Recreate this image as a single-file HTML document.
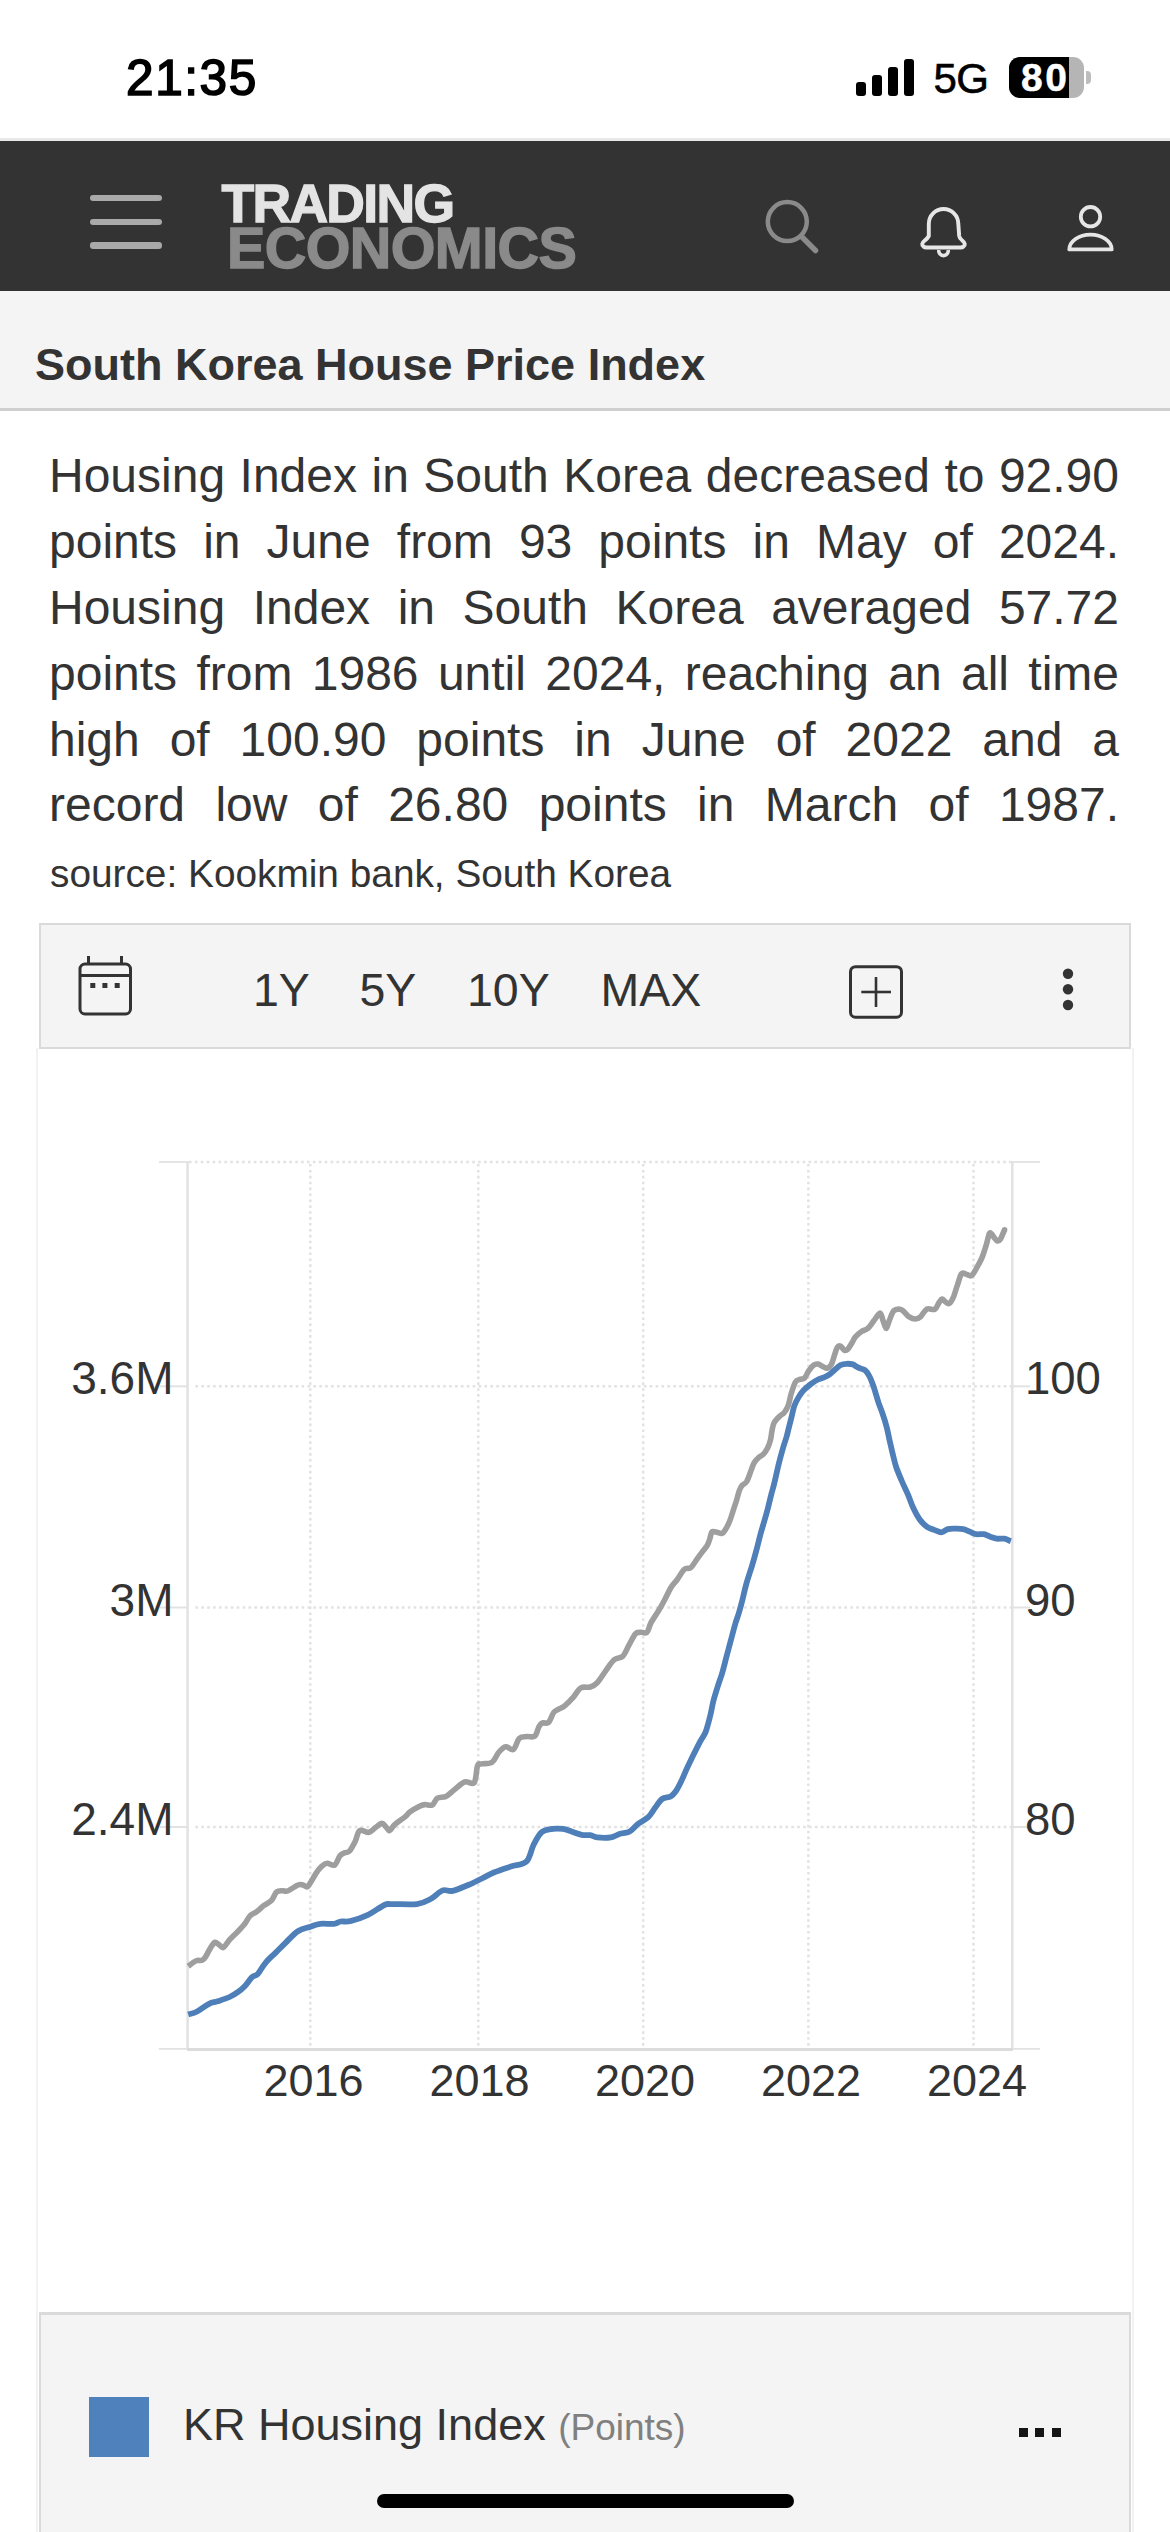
<!DOCTYPE html>
<html><head><meta charset="utf-8">
<style>
*{margin:0;padding:0;box-sizing:border-box}
html,body{width:1170px;height:2532px;overflow:hidden;background:#fff}
body{position:relative;font-family:"Liberation Sans",sans-serif;color:#333}
.t{position:absolute;line-height:1;white-space:pre}
.j{position:absolute;line-height:1;text-align:justify;text-align-last:justify;white-space:normal}
.abs{position:absolute}
</style></head><body>
<div class="t" style="left:126px;top:53.2px;font-size:49.5px;font-weight:400;color:#000;letter-spacing:1.6px;-webkit-text-stroke:1.6px #000;">21:35</div>
<div class="abs" style="left:856px;top:82px;width:10px;height:13.5px;background:#000;border-radius:3px"></div>
<div class="abs" style="left:872px;top:75px;width:10px;height:20.5px;background:#000;border-radius:3px"></div>
<div class="abs" style="left:888px;top:67px;width:10px;height:28.5px;background:#000;border-radius:3px"></div>
<div class="abs" style="left:904px;top:59px;width:10px;height:36.5px;background:#000;border-radius:3px"></div>
<div class="t" style="left:933.5px;top:58.2px;font-size:42px;font-weight:400;color:#000;letter-spacing:-0.5px;-webkit-text-stroke:0.6px #000;">5G</div>
<div class="abs" style="left:1009px;top:57px;width:75px;height:41px;border-radius:11px;background:#b5b5b5;overflow:hidden"><div style="width:60px;height:41px;background:#000"></div></div>
<div class="abs" style="left:1086px;top:71px;width:4.5px;height:13px;border-radius:0 4px 4px 0;background:#bdbdbd"></div>
<div class="t" style="left:1021px;top:58.4px;font-size:39px;font-weight:700;color:#fff;letter-spacing:2.5px;-webkit-text-stroke:0.5px #fff;">80</div>
<div class="abs" style="left:0;top:138px;width:1170px;height:3px;background:#e8e8e8"></div>
<div class="abs" style="left:0;top:141px;width:1170px;height:150px;background:#333"></div>
<div class="abs" style="left:90px;top:194.5px;width:72px;height:6.4px;border-radius:3.2px;background:#a9a9a9"></div>
<div class="abs" style="left:90px;top:218.8px;width:72px;height:6.4px;border-radius:3.2px;background:#a9a9a9"></div>
<div class="abs" style="left:90px;top:242.4px;width:72px;height:6.4px;border-radius:3.2px;background:#a9a9a9"></div>
<div class="t" style="left:221.5px;top:177.0px;font-size:53.5px;font-weight:700;color:#e4e4e4;letter-spacing:-1.7px;-webkit-text-stroke:1.3px #e4e4e4;">TRADING</div>
<div class="t" style="left:227px;top:219.7px;font-size:57.5px;font-weight:700;color:#8a8a8a;letter-spacing:-0.6px;-webkit-text-stroke:1.4px #8a8a8a;">ECONOMICS</div>
<svg class="abs" style="left:0;top:0" width="1170" height="300" viewBox="0 0 1170 300">
<circle cx="787.3" cy="221.6" r="19.5" fill="none" stroke="#8a8a8a" stroke-width="4.5"/>
<line x1="802" y1="237" x2="815.5" y2="250.5" stroke="#8a8a8a" stroke-width="5.5" stroke-linecap="round"/>
<path d="M928.8 236 L928.8 223.7 A14.75 14.75 0 0 1 958.3 223.7 L959.2 236 Q959.5 238.5 962.5 240.8 Q966.5 244 963.5 246.5 Q962.5 247.5 960.5 247.5 L926.5 247.5 Q924.5 247.5 923.5 246.5 Q920.5 244 924.5 240.8 Q927.5 238.5 928.8 236 Z" fill="none" stroke="#e6e6e6" stroke-width="3.9" stroke-linejoin="round"/>
<path d="M938.9 250 A4.7 4.7 0 1 0 948.1 250" fill="none" stroke="#e6e6e6" stroke-width="3.6"/>
<circle cx="1090.5" cy="216.7" r="9.7" fill="none" stroke="#e6e6e6" stroke-width="3.8"/>
<path d="M1069.3 249.4 A21.2 14.8 0 0 1 1111.7 249.4 Z" fill="none" stroke="#e6e6e6" stroke-width="3.8" stroke-linejoin="round"/>
</svg>
<div class="abs" style="left:0;top:291px;width:1170px;height:120px;background:#f4f4f4;border-bottom:3px solid #cfcfcf"></div>
<div class="t" style="left:35px;top:341.9px;font-size:45px;font-weight:700;color:#333;">South Korea House Price Index</div>
<div class="j" style="left:49px;width:1070px;top:452.4px;font-size:48px;color:#333">Housing Index in South Korea decreased to 92.90</div>
<div class="j" style="left:49px;width:1070px;top:518.2px;font-size:48px;color:#333">points in June from 93 points in May of 2024.</div>
<div class="j" style="left:49px;width:1070px;top:584.0px;font-size:48px;color:#333">Housing Index in South Korea averaged 57.72</div>
<div class="j" style="left:49px;width:1070px;top:649.8px;font-size:48px;color:#333">points from 1986 until 2024, reaching an all time</div>
<div class="j" style="left:49px;width:1070px;top:715.6px;font-size:48px;color:#333">high of 100.90 points in June of 2022 and a</div>
<div class="j" style="left:49px;width:1070px;top:781.4px;font-size:48px;color:#333">record low of 26.80 points in March of 1987.</div>
<div class="t" style="left:50px;top:854.7px;font-size:38.8px;font-weight:400;color:#333;">source: Kookmin bank, South Korea</div>
<div class="abs" style="left:36px;top:1048px;width:1098px;height:1490px;border-left:2px solid #f2f2f2;border-right:2px solid #f2f2f2"></div>
<div class="abs" style="left:39px;top:923px;width:1092px;height:125.5px;background:#f4f4f4;border:2px solid #dadada;border-bottom-width:2.5px"></div>
<svg class="abs" style="left:0;top:900px" width="1170" height="160" viewBox="0 900 1170 160">
<rect x="80" y="964" width="50.5" height="50" rx="5" fill="none" stroke="#333" stroke-width="3"/>
<line x1="80" y1="975.5" x2="130.5" y2="975.5" stroke="#333" stroke-width="3"/>
<line x1="88.5" y1="956" x2="88.5" y2="964" stroke="#333" stroke-width="3"/>
<line x1="121.5" y1="956" x2="121.5" y2="964" stroke="#333" stroke-width="3"/>
<rect x="90.3" y="983" width="5" height="5" fill="#333"/><rect x="102.4" y="983" width="5" height="5" fill="#333"/><rect x="114.7" y="983" width="5" height="5" fill="#333"/>
<rect x="850.5" y="966.7" width="51" height="50.5" rx="5" fill="none" stroke="#333" stroke-width="3"/>
<line x1="861.3" y1="992" x2="891" y2="992" stroke="#333" stroke-width="2.6"/>
<line x1="876" y1="977" x2="876" y2="1007" stroke="#333" stroke-width="2.6"/>
<circle cx="1068" cy="973.7" r="5.2" fill="#333"/><circle cx="1068" cy="989.3" r="5.2" fill="#333"/><circle cx="1068" cy="1005" r="5.2" fill="#333"/>
</svg>
<div class="t" style="left:253px;top:967.3px;font-size:46.5px;font-weight:400;color:#333;">1Y</div>
<div class="t" style="left:359.5px;top:967.3px;font-size:46.5px;font-weight:400;color:#333;">5Y</div>
<div class="t" style="left:467px;top:967.3px;font-size:46.5px;font-weight:400;color:#333;">10Y</div>
<div class="t" style="left:600.5px;top:967.3px;font-size:46.5px;font-weight:400;color:#333;">MAX</div>
<svg class="abs" style="left:0;top:1100px" width="1170" height="1050" viewBox="0 1100 1170 1050">
<line x1="189" y1="1162" x2="1012" y2="1162" stroke="#e2e2e2" stroke-width="2.5" stroke-dasharray="2.6 3.3"/>
<line x1="195.4" y1="1386.3" x2="1011" y2="1386.3" stroke="#e2e2e2" stroke-width="2.5" stroke-dasharray="2.6 3.3"/>
<line x1="195.4" y1="1607.5" x2="1011" y2="1607.5" stroke="#e2e2e2" stroke-width="2.5" stroke-dasharray="2.6 3.3"/>
<line x1="195.4" y1="1827" x2="1011" y2="1827" stroke="#e2e2e2" stroke-width="2.5" stroke-dasharray="2.6 3.3"/>
<line x1="310.3" y1="1164" x2="310.3" y2="2047" stroke="#e2e2e2" stroke-width="2.5" stroke-dasharray="2.6 3.3"/>
<line x1="478.3" y1="1164" x2="478.3" y2="2047" stroke="#e2e2e2" stroke-width="2.5" stroke-dasharray="2.6 3.3"/>
<line x1="643.2" y1="1164" x2="643.2" y2="2047" stroke="#e2e2e2" stroke-width="2.5" stroke-dasharray="2.6 3.3"/>
<line x1="808.4" y1="1164" x2="808.4" y2="2047" stroke="#e2e2e2" stroke-width="2.5" stroke-dasharray="2.6 3.3"/>
<line x1="973.5" y1="1164" x2="973.5" y2="2047" stroke="#e2e2e2" stroke-width="2.5" stroke-dasharray="2.6 3.3"/>
<line x1="187.6" y1="1161" x2="187.6" y2="2049" stroke="#e2e2e2" stroke-width="2.5"/>
<line x1="1012.3" y1="1161" x2="1012.3" y2="2049" stroke="#e2e2e2" stroke-width="2.5"/>
<line x1="159" y1="2048.8" x2="1040" y2="2048.8" stroke="#e2e2e2" stroke-width="1.8"/>
<line x1="187" y1="2049.4" x2="1013" y2="2049.4" stroke="#dcdcdc" stroke-width="3"/>
<line x1="159" y1="1162" x2="188" y2="1162" stroke="#e2e2e2" stroke-width="1.8"/>
<line x1="1012" y1="1162" x2="1040" y2="1162" stroke="#e2e2e2" stroke-width="1.8"/>
<line x1="160" y1="1386.3" x2="188" y2="1386.3" stroke="#e2e2e2" stroke-width="2"/>
<line x1="1012" y1="1386.3" x2="1030" y2="1386.3" stroke="#e2e2e2" stroke-width="2"/>
<line x1="160" y1="1607.5" x2="188" y2="1607.5" stroke="#e2e2e2" stroke-width="2"/>
<line x1="1012" y1="1607.5" x2="1030" y2="1607.5" stroke="#e2e2e2" stroke-width="2"/>
<line x1="160" y1="1827" x2="188" y2="1827" stroke="#e2e2e2" stroke-width="2"/>
<line x1="1012" y1="1827" x2="1030" y2="1827" stroke="#e2e2e2" stroke-width="2"/>
<path d="M188.2 1966.2 C189.5 1965.3 193.9 1961.8 196.2 1960.8 C198.5 1959.8 200.6 1961.0 202.2 1960.3 C203.8 1959.6 204.2 1958.9 205.6 1956.8 C207.0 1954.7 209.2 1949.8 210.8 1947.4 C212.4 1945.0 213.6 1942.7 215.0 1942.3 C216.4 1941.9 217.9 1944.1 219.3 1944.9 C220.7 1945.8 221.9 1948.3 223.6 1947.4 C225.3 1946.5 227.2 1942.4 229.6 1939.7 C232.0 1937.0 235.5 1933.9 238.1 1931.2 C240.7 1928.5 243.0 1926.1 245.0 1923.5 C247.0 1920.9 248.1 1917.8 250.1 1915.8 C252.1 1913.8 254.6 1913.2 256.9 1911.5 C259.2 1909.8 261.4 1907.4 263.8 1905.6 C266.2 1903.8 269.4 1902.7 271.5 1900.4 C273.6 1898.1 274.8 1893.5 276.6 1891.9 C278.5 1890.3 280.8 1890.9 282.6 1890.7 C284.5 1890.5 285.1 1892.0 287.7 1891.0 C290.3 1890.0 295.4 1886.0 298.0 1885.0 C300.6 1884.0 301.4 1884.7 303.0 1885.0 C304.6 1885.3 306.0 1887.5 307.4 1886.8 C308.8 1886.1 310.0 1883.2 311.6 1880.8 C313.2 1878.4 315.1 1874.6 316.8 1872.2 C318.5 1869.8 320.2 1867.7 321.9 1866.2 C323.6 1864.7 324.9 1863.5 327.0 1863.3 C329.1 1863.1 332.6 1866.2 334.7 1865.0 C336.8 1863.8 338.2 1858.0 339.8 1856.0 C341.4 1854.0 342.5 1853.8 344.1 1853.0 C345.7 1852.2 347.5 1853.1 349.4 1851.1 C351.3 1849.1 353.7 1844.3 355.4 1840.9 C357.1 1837.5 357.4 1832.0 359.7 1830.6 C362.0 1829.2 366.4 1832.9 369.1 1832.3 C371.8 1831.7 373.8 1828.7 375.9 1827.2 C378.0 1825.7 380.2 1823.4 381.9 1823.4 C383.6 1823.4 384.9 1826.0 386.2 1827.2 C387.5 1828.4 388.2 1831.0 389.6 1830.6 C391.0 1830.2 392.1 1826.9 394.7 1824.6 C397.3 1822.3 402.4 1819.0 405.0 1816.9 C407.6 1814.8 407.8 1813.5 410.1 1811.8 C412.4 1810.1 416.2 1807.9 418.6 1806.7 C421.0 1805.5 422.3 1804.9 424.6 1804.6 C426.9 1804.3 430.2 1806.1 432.3 1805.0 C434.4 1803.9 435.1 1799.5 437.4 1798.1 C439.7 1796.7 443.1 1797.8 446.0 1796.4 C448.9 1795.0 451.4 1792.0 454.5 1789.6 C457.6 1787.2 461.5 1783.1 464.8 1781.9 C468.1 1780.8 472.1 1785.4 474.2 1782.7 C476.3 1780.0 476.3 1768.7 477.6 1765.6 C478.9 1762.5 479.5 1764.5 481.9 1763.9 C484.3 1763.3 489.2 1764.2 492.1 1762.2 C495.0 1760.2 496.7 1754.6 499.0 1752.0 C501.3 1749.4 503.4 1747.2 505.8 1746.8 C508.2 1746.4 511.2 1750.8 513.5 1749.4 C515.8 1748.0 517.1 1740.4 519.4 1738.3 C521.7 1736.2 524.5 1737.0 527.1 1736.6 C529.7 1736.2 532.8 1737.8 534.8 1736.1 C536.8 1734.4 537.8 1728.5 539.1 1726.3 C540.4 1724.1 540.9 1723.6 542.5 1722.9 C544.1 1722.2 546.6 1724.1 548.5 1722.4 C550.4 1720.7 551.9 1714.8 553.6 1712.6 C555.3 1710.4 556.9 1710.3 558.7 1709.2 C560.6 1708.1 562.3 1707.8 564.7 1705.8 C567.1 1703.8 570.5 1700.3 573.2 1697.3 C575.9 1694.3 578.0 1689.6 580.9 1687.9 C583.8 1686.2 587.6 1687.9 590.3 1687.0 C593.0 1686.1 594.6 1685.4 597.2 1682.7 C599.8 1680.0 602.9 1674.6 605.7 1670.8 C608.6 1667.0 611.4 1662.1 614.3 1659.7 C617.1 1657.3 620.3 1658.7 622.8 1656.2 C625.3 1653.7 627.1 1648.3 629.2 1644.6 C631.3 1640.9 633.6 1635.8 635.4 1633.8 C637.2 1631.8 638.1 1632.5 640.0 1632.3 C641.9 1632.0 645.1 1633.8 646.9 1632.3 C648.7 1630.8 648.9 1626.7 650.8 1623.1 C652.7 1619.5 656.2 1614.6 658.5 1610.8 C660.8 1607.0 662.6 1603.8 664.6 1600.0 C666.6 1596.2 668.8 1591.0 670.8 1587.7 C672.8 1584.4 674.6 1583.1 676.9 1580.0 C679.2 1576.9 682.3 1571.2 684.6 1569.2 C686.9 1567.2 688.8 1569.4 690.8 1567.7 C692.8 1566.0 694.9 1562.0 696.8 1559.3 C698.7 1556.6 700.6 1554.1 702.3 1551.8 C704.0 1549.5 705.9 1547.8 707.1 1545.6 C708.4 1543.4 709.0 1541.1 709.8 1538.8 C710.6 1536.5 710.9 1533.1 711.9 1532.0 C712.9 1530.9 714.3 1531.8 716.0 1532.0 C717.7 1532.2 720.5 1533.8 722.1 1533.3 C723.7 1532.8 724.3 1531.2 725.6 1529.2 C726.9 1527.2 728.5 1524.1 729.7 1521.0 C731.0 1517.9 732.0 1514.2 733.1 1510.8 C734.2 1507.4 735.5 1503.8 736.5 1500.5 C737.5 1497.2 738.3 1493.4 739.2 1490.9 C740.1 1488.4 740.7 1487.1 742.0 1485.5 C743.3 1483.9 745.2 1484.0 746.8 1481.4 C748.3 1478.8 750.1 1472.9 751.3 1469.8 C752.5 1466.7 753.0 1464.7 754.2 1462.7 C755.4 1460.7 756.9 1459.1 758.4 1457.7 C759.9 1456.3 761.8 1455.8 763.4 1454.1 C765.0 1452.4 766.5 1450.1 767.7 1447.7 C768.9 1445.3 769.8 1442.7 770.5 1439.9 C771.2 1437.1 771.4 1433.6 772.0 1430.7 C772.6 1427.8 772.8 1425.3 774.1 1422.8 C775.4 1420.3 778.3 1417.6 780.0 1415.9 C781.7 1414.2 782.7 1414.5 784.1 1412.8 C785.5 1411.1 787.0 1408.8 788.2 1405.6 C789.4 1402.3 790.1 1397.2 791.3 1393.3 C792.5 1389.4 794.0 1384.4 795.4 1382.1 C796.8 1379.8 798.0 1380.2 799.5 1379.5 C801.0 1378.8 803.1 1379.5 804.6 1378.0 C806.1 1376.5 807.2 1373.0 808.7 1370.8 C810.2 1368.6 812.3 1366.2 813.8 1365.1 C815.3 1364.0 816.3 1363.8 817.9 1364.1 C819.5 1364.4 821.5 1366.0 823.1 1366.7 C824.7 1367.4 825.8 1368.6 827.2 1368.2 C828.6 1367.8 830.1 1366.7 831.3 1364.6 C832.5 1362.5 833.4 1358.3 834.4 1355.4 C835.4 1352.5 836.4 1348.7 837.4 1347.2 C838.4 1345.7 839.3 1345.7 840.5 1346.2 C841.7 1346.7 843.4 1349.8 844.6 1350.3 C845.8 1350.8 846.5 1350.4 847.7 1349.2 C848.9 1348.0 850.5 1345.1 851.8 1343.1 C853.1 1341.0 853.8 1338.8 855.4 1336.9 C857.0 1335.0 859.5 1332.9 861.5 1331.5 C863.5 1330.1 865.7 1330.3 867.7 1328.5 C869.8 1326.7 871.8 1323.4 873.8 1320.8 C875.8 1318.2 878.5 1313.1 880.0 1313.1 C881.5 1313.1 882.1 1318.2 883.1 1320.8 C884.1 1323.4 885.2 1328.5 886.2 1328.5 C887.2 1328.5 887.9 1323.8 889.2 1320.8 C890.5 1317.8 892.0 1312.7 893.8 1310.8 C895.6 1308.9 898.3 1309.0 900.0 1309.2 C901.7 1309.4 902.6 1310.5 904.1 1311.8 C905.6 1313.1 907.3 1315.7 909.2 1316.9 C911.1 1318.1 913.5 1319.0 915.4 1319.0 C917.3 1319.0 918.6 1318.5 920.5 1316.9 C922.4 1315.3 924.3 1310.5 926.7 1309.2 C929.1 1307.9 932.9 1310.3 934.9 1309.2 C936.9 1308.1 937.8 1304.3 939.0 1302.6 C940.2 1300.9 941.1 1299.2 942.1 1299.0 C943.1 1298.8 943.9 1300.7 945.1 1301.5 C946.3 1302.3 947.8 1304.3 949.2 1303.6 C950.6 1302.9 951.9 1300.5 953.3 1297.4 C954.7 1294.3 956.0 1289.0 957.4 1285.1 C958.8 1281.2 960.0 1275.6 961.5 1273.8 C963.0 1272.0 965.0 1274.1 966.7 1274.4 C968.4 1274.7 969.9 1276.9 971.8 1275.4 C973.7 1273.9 976.2 1268.6 977.9 1265.6 C979.6 1262.6 980.7 1260.8 982.1 1257.4 C983.5 1254.0 985.0 1249.0 986.2 1245.1 C987.4 1241.2 988.4 1235.7 989.2 1233.8 C990.1 1231.9 990.4 1233.1 991.3 1233.8 C992.2 1234.5 993.4 1236.7 994.4 1237.9 C995.4 1239.1 996.4 1240.8 997.4 1241.0 C998.4 1241.2 999.3 1240.9 1000.5 1239.0 C1001.7 1237.1 1003.9 1231.2 1004.6 1229.7" fill="none" stroke="#9e9e9e" stroke-width="5.6" stroke-linejoin="round" stroke-linecap="butt"/>
<path d="M188.2 2014.4 C189.7 2013.9 193.6 2013.3 197.1 2011.5 C200.6 2009.7 205.6 2005.5 209.0 2003.8 C212.4 2002.1 214.2 2002.4 217.6 2001.3 C221.0 2000.2 226.2 1998.6 229.6 1997.0 C233.0 1995.4 235.5 1993.8 238.1 1991.9 C240.7 1990.1 242.7 1988.3 245.0 1985.9 C247.3 1983.5 249.7 1979.4 251.8 1977.4 C253.9 1975.4 255.5 1976.3 257.8 1973.9 C260.1 1971.5 262.5 1966.3 265.5 1962.8 C268.5 1959.2 272.3 1956.0 275.7 1952.6 C279.1 1949.2 282.3 1945.9 286.0 1942.3 C289.7 1938.7 293.9 1933.8 297.9 1931.2 C301.9 1928.6 306.2 1928.1 309.9 1926.9 C313.6 1925.7 316.2 1924.3 320.2 1923.8 C324.2 1923.3 330.4 1924.2 333.8 1923.8 C337.2 1923.4 337.9 1921.9 340.7 1921.5 C343.4 1921.1 345.9 1922.2 350.3 1921.2 C354.8 1920.2 361.7 1917.9 367.4 1915.2 C373.1 1912.5 380.4 1906.8 384.4 1905.0 C388.4 1903.2 385.9 1904.2 391.3 1904.1 C396.7 1903.9 410.3 1904.9 416.9 1904.1 C423.4 1903.2 426.3 1901.3 430.6 1899.0 C434.9 1896.7 438.9 1891.8 442.6 1890.4 C446.3 1889.0 448.0 1891.9 452.8 1890.8 C457.6 1889.7 466.8 1885.6 471.6 1883.6 C476.5 1881.5 478.2 1880.3 481.9 1878.5 C485.6 1876.7 489.0 1874.5 493.8 1872.5 C498.6 1870.5 505.5 1868.3 510.9 1866.5 C516.3 1864.7 522.5 1865.3 526.3 1861.7 C530.1 1858.1 531.0 1849.9 533.5 1845.0 C536.0 1840.1 538.4 1835.0 541.6 1832.3 C544.8 1829.6 549.1 1829.5 552.7 1828.9 C556.3 1828.3 559.9 1828.5 563.0 1828.9 C566.1 1829.3 568.4 1830.5 571.5 1831.5 C574.6 1832.5 578.7 1834.3 581.8 1834.9 C584.9 1835.5 587.7 1834.8 590.3 1835.2 C592.9 1835.6 593.8 1837.0 597.2 1837.4 C600.6 1837.8 607.2 1838.0 610.9 1837.4 C614.6 1836.8 616.3 1835.0 619.4 1834.0 C622.5 1833.0 626.6 1833.2 629.7 1831.5 C632.8 1829.8 635.1 1826.2 638.2 1823.8 C641.3 1821.4 645.6 1819.6 648.5 1816.9 C651.4 1814.2 653.0 1810.5 655.3 1807.5 C657.6 1804.5 659.5 1800.8 662.1 1799.0 C664.7 1797.2 668.4 1797.7 670.7 1796.4 C673.0 1795.1 674.1 1793.7 675.8 1791.3 C677.5 1788.9 678.9 1786.0 680.9 1781.9 C682.9 1777.8 684.7 1773.1 687.8 1766.5 C690.9 1759.9 696.8 1748.0 699.7 1742.4 C702.6 1736.8 703.8 1736.1 705.2 1733.0 C706.6 1729.9 707.3 1726.9 708.2 1723.6 C709.1 1720.3 709.9 1717.0 710.8 1713.3 C711.6 1709.6 712.2 1705.8 713.3 1701.4 C714.4 1697.0 716.2 1691.4 717.6 1686.8 C719.0 1682.2 720.6 1678.3 721.9 1674.0 C723.2 1669.7 724.2 1665.5 725.3 1661.2 C726.4 1656.9 727.6 1652.7 728.7 1648.4 C729.8 1644.1 731.0 1639.9 732.1 1635.6 C733.2 1631.3 734.5 1626.5 735.6 1622.7 C736.8 1618.9 737.9 1616.3 739.0 1612.5 C740.1 1608.7 741.2 1604.8 742.4 1600.0 C743.6 1595.2 744.8 1589.3 746.4 1583.6 C748.0 1577.9 750.2 1571.7 752.0 1565.8 C753.8 1559.9 755.6 1553.3 757.0 1548.0 C758.4 1542.7 759.4 1538.2 760.6 1533.8 C761.8 1529.4 762.9 1525.8 764.1 1521.7 C765.3 1517.6 766.5 1513.4 767.7 1508.9 C768.9 1504.4 770.1 1498.9 771.2 1494.7 C772.3 1490.5 773.2 1487.8 774.1 1484.0 C775.0 1480.2 776.0 1475.9 776.9 1471.9 C777.8 1467.9 778.7 1464.0 779.8 1459.8 C780.9 1455.6 782.2 1450.8 783.3 1447.0 C784.4 1443.2 785.6 1440.0 786.5 1437.0 C787.4 1434.0 787.7 1432.2 788.5 1429.0 C789.3 1425.8 790.3 1421.9 791.3 1418.0 C792.3 1414.1 793.2 1409.0 794.4 1405.6 C795.6 1402.2 797.0 1400.0 798.5 1397.4 C800.0 1394.9 801.6 1392.5 803.6 1390.3 C805.6 1388.1 808.4 1385.9 810.8 1384.1 C813.2 1382.3 815.8 1380.6 818.0 1379.5 C820.2 1378.4 822.1 1378.4 824.1 1377.4 C826.1 1376.5 828.4 1375.2 830.3 1373.8 C832.2 1372.4 833.7 1370.7 835.4 1369.2 C837.1 1367.8 838.6 1366.0 840.5 1365.1 C842.4 1364.2 844.7 1363.9 846.7 1363.8 C848.8 1363.7 851.1 1363.9 852.8 1364.4 C854.5 1364.9 855.5 1366.2 856.9 1366.9 C858.3 1367.6 859.6 1368.1 861.0 1368.7 C862.4 1369.3 863.7 1369.1 865.1 1370.3 C866.5 1371.5 868.0 1373.8 869.2 1375.9 C870.4 1378.0 871.3 1380.4 872.3 1383.1 C873.3 1385.8 874.4 1389.0 875.4 1392.3 C876.4 1395.5 877.3 1399.0 878.5 1402.6 C879.7 1406.2 881.2 1409.7 882.6 1413.8 C884.0 1417.9 885.6 1422.8 886.7 1427.2 C887.9 1431.6 888.5 1435.7 889.5 1440.0 C890.5 1444.3 891.4 1448.6 892.5 1453.0 C893.6 1457.4 894.5 1461.8 896.0 1466.5 C897.5 1471.2 899.8 1476.2 901.8 1481.0 C903.8 1485.8 906.3 1490.6 908.2 1495.1 C910.1 1499.6 911.4 1503.9 913.3 1508.0 C915.2 1512.1 917.4 1516.3 919.7 1519.5 C922.1 1522.7 925.0 1525.5 927.4 1527.2 C929.8 1528.9 931.4 1528.9 933.8 1529.7 C936.1 1530.5 939.1 1532.4 941.5 1532.3 C943.9 1532.2 945.5 1529.7 947.9 1529.1 C950.2 1528.5 953.0 1528.7 955.6 1528.7 C958.2 1528.7 960.9 1528.6 963.3 1529.1 C965.6 1529.6 967.6 1530.8 969.7 1531.7 C971.9 1532.6 973.9 1533.8 976.2 1534.2 C978.6 1534.6 981.4 1533.8 983.8 1534.2 C986.1 1534.6 988.1 1536.0 990.3 1536.8 C992.4 1537.5 994.4 1538.4 996.7 1538.7 C999.1 1539.0 1002.0 1538.3 1004.4 1538.7 C1006.8 1539.1 1009.7 1540.9 1010.8 1541.3" fill="none" stroke="#4e7fb8" stroke-width="5.8" stroke-linejoin="round" stroke-linecap="butt"/>
<circle cx="1004.6" cy="1229.7" r="2.8" fill="#9e9e9e"/>
</svg>
<div class="t" style="right:996.5px;text-align:right;top:1355.1px;font-size:46px;font-weight:400;color:#333;">3.6M</div>
<div class="t" style="right:996.5px;text-align:right;top:1577.1px;font-size:46px;font-weight:400;color:#333;">3M</div>
<div class="t" style="right:996.5px;text-align:right;top:1796.1px;font-size:46px;font-weight:400;color:#333;">2.4M</div>
<div class="t" style="left:1025px;top:1355.5px;font-size:45.5px;font-weight:400;color:#333;">100</div>
<div class="t" style="left:1025px;top:1577.5px;font-size:45.5px;font-weight:400;color:#333;">90</div>
<div class="t" style="left:1025px;top:1796.5px;font-size:45.5px;font-weight:400;color:#333;">80</div>
<div class="t" style="left:13.5px;width:600px;text-align:center;top:2058.4px;font-size:45px;font-weight:400;color:#333;">2016</div>
<div class="t" style="left:179.5px;width:600px;text-align:center;top:2058.4px;font-size:45px;font-weight:400;color:#333;">2018</div>
<div class="t" style="left:345px;width:600px;text-align:center;top:2058.4px;font-size:45px;font-weight:400;color:#333;">2020</div>
<div class="t" style="left:511px;width:600px;text-align:center;top:2058.4px;font-size:45px;font-weight:400;color:#333;">2022</div>
<div class="t" style="left:677px;width:600px;text-align:center;top:2058.4px;font-size:45px;font-weight:400;color:#333;">2024</div>
<div class="abs" style="left:39px;top:2312px;width:1092px;height:260px;background:#f4f4f4;border:2px solid #dadada;border-top-width:3px"></div>
<div class="abs" style="left:89px;top:2397px;width:60px;height:60px;background:#4f81bd"></div>
<div class="t" style="left:183px;top:2402.3px;font-size:45px;font-weight:400;color:#333;">KR Housing Index <span style="font-size:37px;color:#808080">(Points)</span></div>
<div class="abs" style="left:1019px;top:2428px;width:9px;height:8.7px;background:#151515"></div>
<div class="abs" style="left:1035px;top:2428px;width:9px;height:8.7px;background:#151515"></div>
<div class="abs" style="left:1052px;top:2428px;width:9px;height:8.7px;background:#151515"></div>
<div class="abs" style="left:377px;top:2493.5px;width:417px;height:14.5px;border-radius:7.25px;background:#000"></div>
</body></html>
